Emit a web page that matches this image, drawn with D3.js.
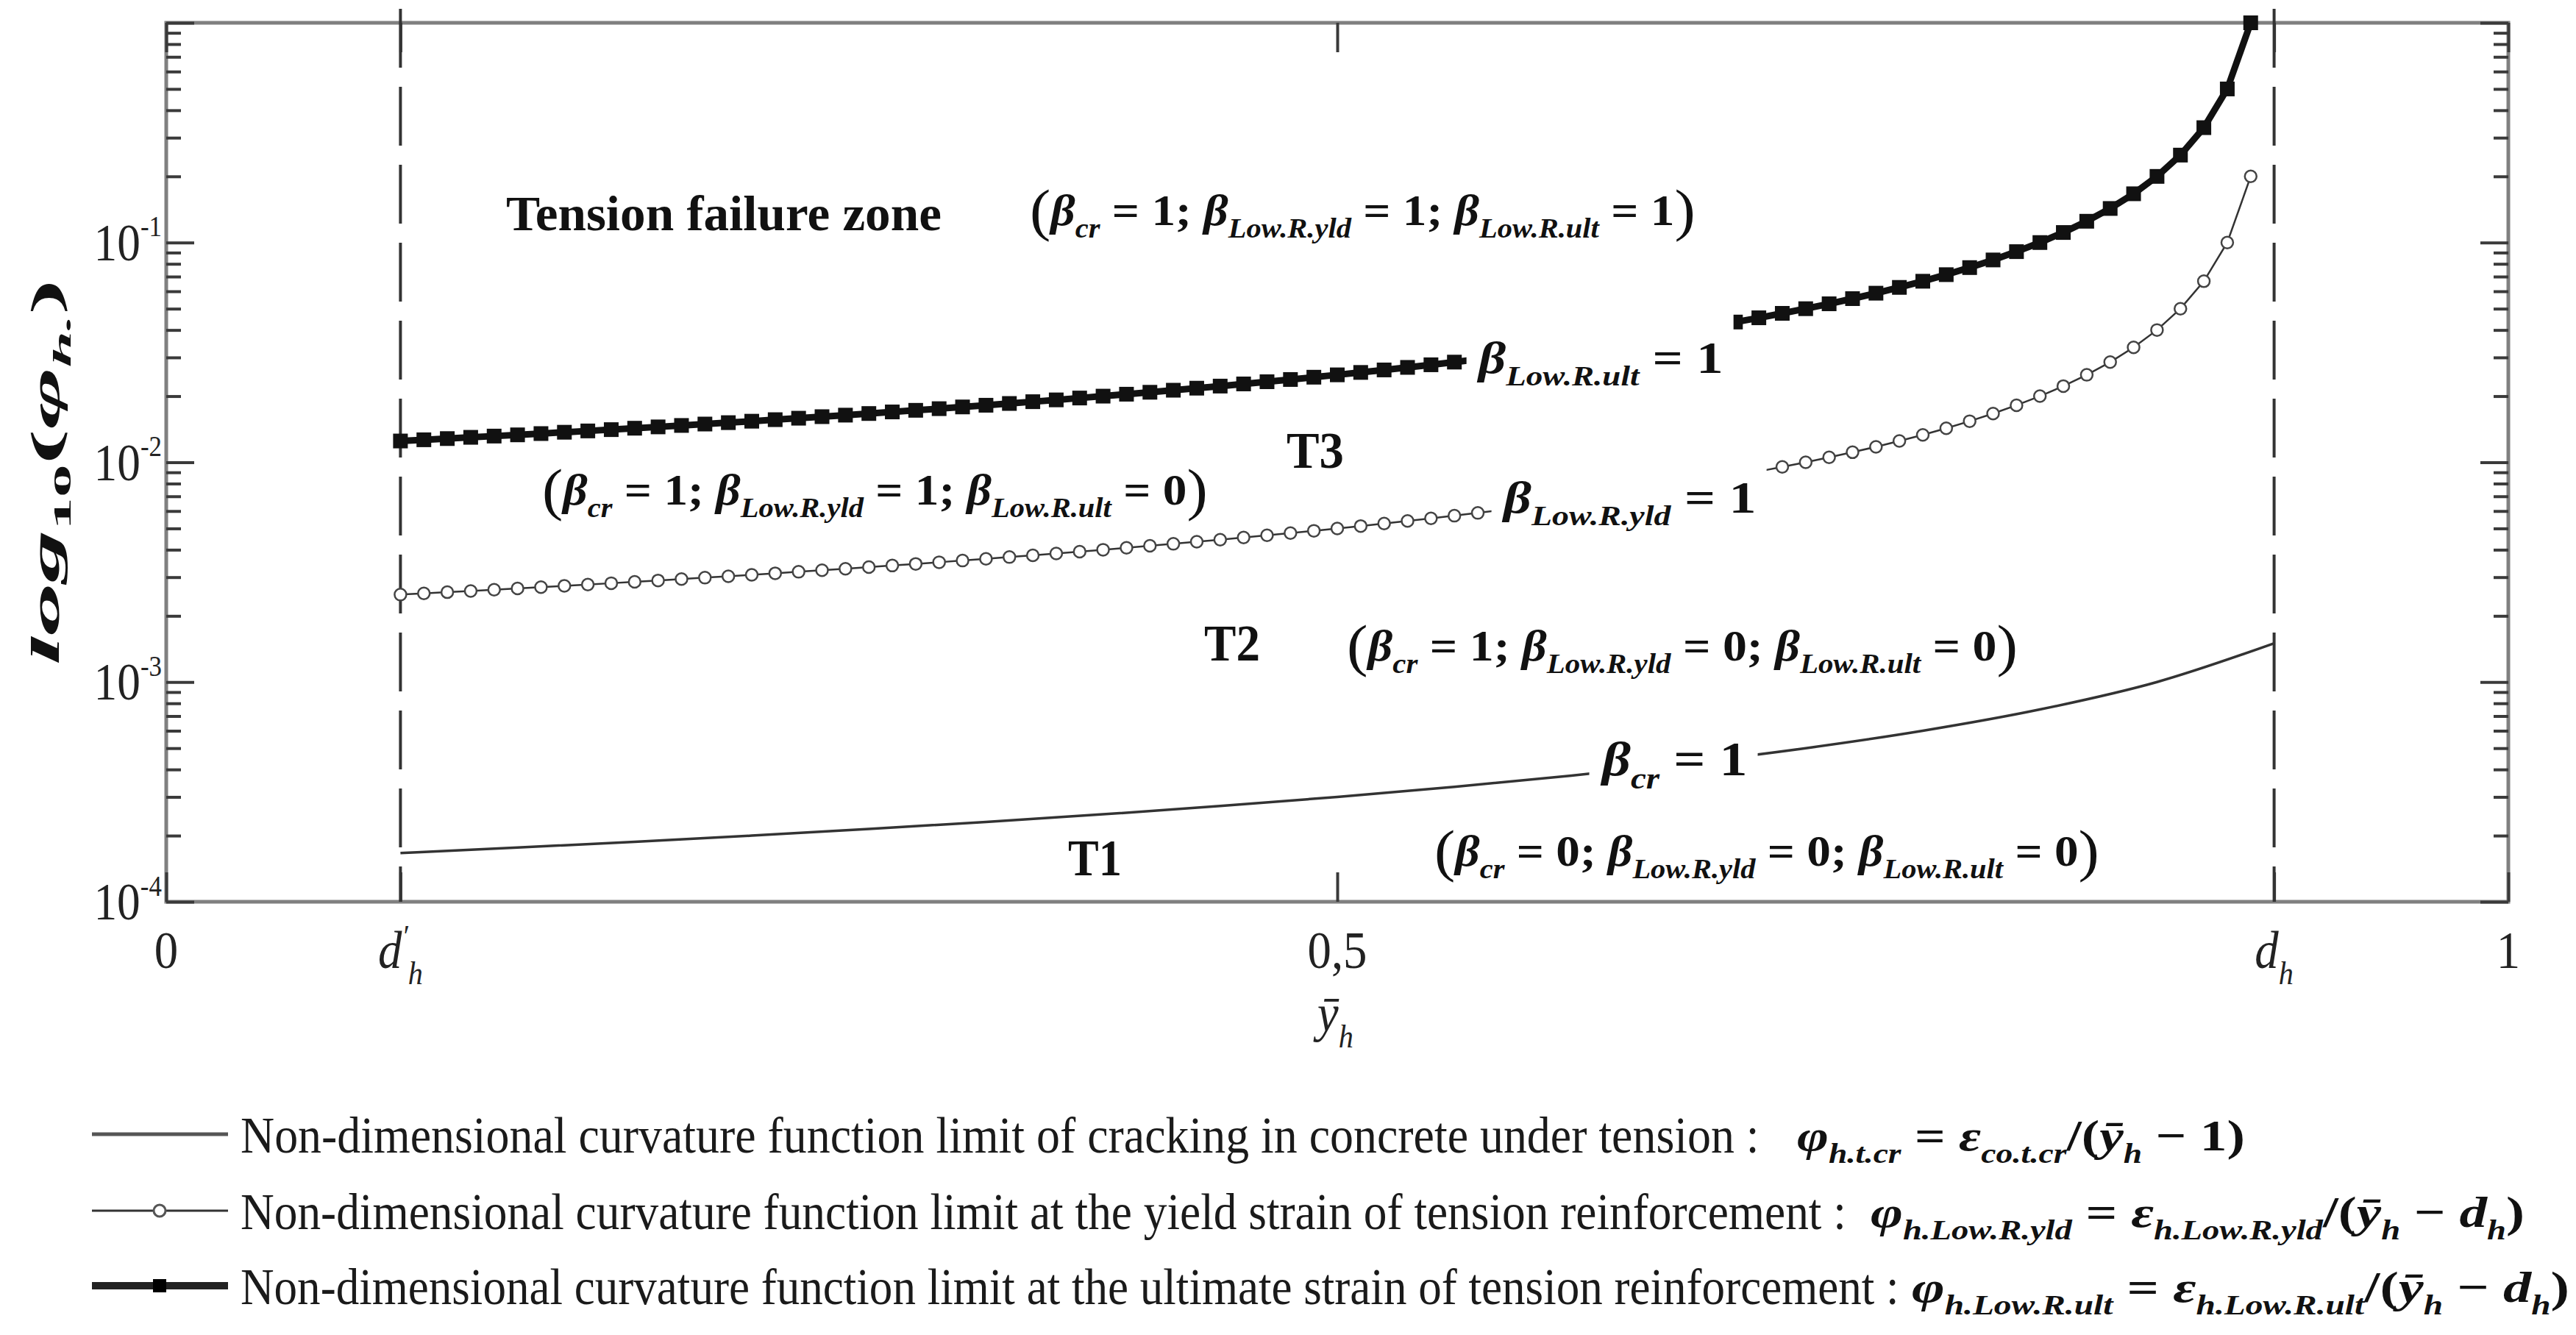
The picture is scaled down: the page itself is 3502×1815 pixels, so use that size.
<!DOCTYPE html>
<html>
<head>
<meta charset="utf-8">
<script src="https://cdn.jsdelivr.net/npm/d3@7"></script>
<style>
  html, body { margin: 0; padding: 0; background: #fff; }
  svg { display: block; }
  text { white-space: pre; }
</style>
</head>
<body>
<svg id="chart" width="3502" height="1815"></svg>
<script>
// Non-dimensional curvature limits vs. neutral axis depth (log scale)

// ---- data ----
const yBar = [
    0.10, 0.11, 0.12, 0.13, 0.14, 0.15, 0.16, 0.17, 0.18, 0.19,
    0.20, 0.21, 0.22, 0.23, 0.24, 0.25, 0.26, 0.27, 0.28, 0.29,
    0.30, 0.31, 0.32, 0.33, 0.34, 0.35, 0.36, 0.37, 0.38, 0.39,
    0.40, 0.41, 0.42, 0.43, 0.44, 0.45, 0.46, 0.47, 0.48, 0.49,
    0.50, 0.51, 0.52, 0.53, 0.54, 0.55, 0.56, 0.57, 0.58, 0.59,
    0.60, 0.61, 0.62, 0.63, 0.64, 0.65, 0.66, 0.67, 0.68, 0.69,
    0.70, 0.71, 0.72, 0.73, 0.74, 0.75, 0.76, 0.77, 0.78, 0.79,
    0.80, 0.81, 0.82, 0.83, 0.84, 0.85, 0.86, 0.87, 0.88, 0.89
];
// yield strain limit (open circles)
const phiYield = [
    0.0025, 0.002532, 0.002564, 0.002597, 0.002632, 0.002667, 0.002703, 0.00274, 0.002778, 0.002817,
    0.002857, 0.002899, 0.002941, 0.002985, 0.00303, 0.003077, 0.003125, 0.003175, 0.003226, 0.003279,
    0.003333, 0.00339, 0.003448, 0.003509, 0.003571, 0.003636, 0.003704, 0.003774, 0.003846, 0.003922,
    0.004, 0.004082, 0.004167, 0.004255, 0.004348, 0.004444, 0.004545, 0.004651, 0.004762, 0.004878,
    0.005, 0.005128, 0.005263, 0.005405, 0.005556, 0.005714, 0.005882, 0.006061, 0.00625, 0.006452,
    0.006667, 0.006897, 0.007143, 0.007407, 0.007692, 0.008, 0.008333, 0.008696, 0.009091, 0.009524,
    0.01, 0.01053, 0.01111, 0.01176, 0.0125, 0.01333, 0.01429, 0.01538, 0.01667, 0.01818,
    0.02, 0.02222, 0.025, 0.02857, 0.03333, 0.04, 0.05, 0.06667, 0.1, 0.2
];
// ultimate strain limit (filled squares)
const phiUlt = [
    0.0125, 0.01266, 0.01282, 0.01299, 0.01316, 0.01333, 0.01351, 0.0137, 0.01389, 0.01408,
    0.01429, 0.01449, 0.01471, 0.01493, 0.01515, 0.01538, 0.01563, 0.01587, 0.01613, 0.01639,
    0.01667, 0.01695, 0.01724, 0.01754, 0.01786, 0.01818, 0.01852, 0.01887, 0.01923, 0.01961,
    0.02, 0.02041, 0.02083, 0.02128, 0.02174, 0.02222, 0.02273, 0.02326, 0.02381, 0.02439,
    0.025, 0.02564, 0.02632, 0.02703, 0.02778, 0.02857, 0.02941, 0.0303, 0.03125, 0.03226,
    0.03333, 0.03448, 0.03571, 0.03704, 0.03846, 0.04, 0.04167, 0.04348, 0.04545, 0.04762,
    0.05, 0.05263, 0.05556, 0.05882, 0.0625, 0.06667, 0.07143, 0.07692, 0.08333, 0.09091,
    0.1, 0.1111, 0.125, 0.1429, 0.1667, 0.2, 0.25, 0.3333, 0.5, 1.0
];
// cracking limit (plain line)
const yBarCr = [0.10, 0.15, 0.20, 0.25, 0.30, 0.35, 0.40, 0.45, 0.50, 0.55, 0.60, 0.65, 0.70, 0.75, 0.80, 0.85, 0.90];
const phiCr = [1.667e-4, 1.765e-4, 1.875e-4, 2.0e-4, 2.143e-4, 2.308e-4, 2.5e-4, 2.727e-4, 3.0e-4,
    3.333e-4, 3.75e-4, 4.286e-4, 5.0e-4, 6.0e-4, 7.5e-4, 1.0e-3, 1.5e-3];

const dPrime = 0.1;
const dH = 0.9;
const xTicks = [0, dPrime, 0.5, dH, 1];
const xTickLabels = [
    [['0', 'r']],
    [['d', 'i'], ['′', 'isup'], ['h', 'isub']],
    [['0,5', 'r']],
    [['d', 'i'], ['h', 'isub']],
    [['1', 'r']]
];
const yMajor = [1e-4, 1e-3, 1e-2, 1e-1, 1];
const yTickExp = ['-4', '-3', '-2', '-1'];

const legendText = [
    'Non-dimensional curvature function limit of cracking in concrete under tension :',
    'Non-dimensional curvature function limit at the yield strain of tension reinforcement :',
    'Non-dimensional curvature function limit at the ultimate strain of tension reinforcement :'
];
const legendFormula = [
    [['φ', 'bi'], ['h.t.cr', 'sub'], [' = ', 'b'], ['ε', 'bi'], ['co.t.cr', 'sub'], ['/(', 'b'], ['ȳ', 'bi'], ['h', 'sub'], [' − 1)', 'b']],
    [['φ', 'bi'], ['h.Low.R.yld', 'sub'], [' = ', 'b'], ['ε', 'bi'], ['h.Low.R.yld', 'sub'], ['/(', 'b'], ['ȳ', 'bi'], ['h', 'sub'], [' − ', 'b'], ['d', 'bi'], ['h', 'sub'], [')', 'b']],
    [['φ', 'bi'], ['h.Low.R.ult', 'sub'], [' = ', 'b'], ['ε', 'bi'], ['h.Low.R.ult', 'sub'], ['/(', 'b'], ['ȳ', 'bi'], ['h', 'sub'], [' − ', 'b'], ['d', 'bi'], ['h', 'sub'], [')', 'b']]
];

function betaSet(cr, yld, ult) {
    return [['(', 'par'], ['β', 'bi'], ['cr', 'sub'], [' = ' + cr + '; ', 'b'],
        ['β', 'bi'], ['Low.R.yld', 'sub'], [' = ' + yld + '; ', 'b'],
        ['β', 'bi'], ['Low.R.ult', 'sub'], [' = ' + ult, 'b'], [')', 'par']];
}

// ---- layout ----
const FONT = "'Liberation Serif', 'Times New Roman', serif";
const svg = d3.select('#chart');
const plot = { left: 226, right: 3410, top: 31, bottom: 1226 };

const x = d3.scaleLinear().domain([0, 1]).range([plot.left, plot.right]);
const y = d3.scaleLog().domain([1e-4, 1]).range([plot.bottom, plot.top]);

const STYLES = {
    r:    { style: 'normal', weight: 'normal', scale: 1, shift: 0 },
    b:    { style: 'normal', weight: 'bold', scale: 1, shift: 0 },
    i:    { style: 'italic', weight: 'normal', scale: 1, shift: 0 },
    bi:   { style: 'italic', weight: 'bold', scale: 1, shift: 0 },
    sub:  { style: 'italic', weight: 'bold', scale: 0.62, shift: 0.28 },
    bsub: { style: 'normal', weight: 'bold', scale: 0.62, shift: 0.28 },
    isub: { style: 'italic', weight: 'normal', scale: 0.62, shift: 0.3 },
    sup:  { style: 'normal', weight: 'normal', scale: 0.55, shift: -0.45 },
    isup: { style: 'italic', weight: 'normal', scale: 0.6, shift: -0.4 },
    par:  { style: 'normal', weight: 'normal', scale: 1.3, shift: 0.1 }
};

// Text made of styled runs, squeezed horizontally to a target width
function richText(parent, parts, o) {
    const t = parent.append('text')
        .attr('font-family', FONT)
        .attr('font-size', o.size)
        .attr('fill', o.color || '#111');
    let cur = 0;
    parts.forEach(([s, k]) => {
        const st = STYLES[k];
        const shift = st.shift * o.size;
        t.append('tspan')
            .attr('dy', shift - cur)
            .attr('font-size', o.size * st.scale)
            .attr('font-style', st.style)
            .attr('font-weight', st.weight)
            .text(s);
        cur = shift;
    });
    const bb = t.node().getBBox();
    const sx = o.width ? o.width / bb.width : (o.sx || 1);
    let x0 = o.x;
    if (o.anchor === 'middle') x0 -= bb.width * sx / 2;
    if (o.anchor === 'end') x0 -= bb.width * sx;
    t.attr('transform', `translate(${x0},${o.y}) scale(${sx},1)`);
    if (o.bg) {
        // white box behind the label, the curve passes under it
        const pad = 14;
        const padTop = o.padTop || 6;
        parent.insert('rect', () => t.node())
            .attr('x', x0 + bb.x * sx - pad)
            .attr('y', o.y + bb.y - padTop)
            .attr('width', bb.width * sx + 2 * pad)
            .attr('height', bb.height + padTop + 6)
            .attr('fill', '#fff');
    }
    return t;
}

// ---- frame and ticks ----
svg.append('rect')
    .attr('x', plot.left)
    .attr('y', plot.top)
    .attr('width', plot.right - plot.left)
    .attr('height', plot.bottom - plot.top)
    .attr('fill', 'none')
    .attr('stroke', '#808080')
    .attr('stroke-width', 5);

const yMinor = y.ticks().filter(v => !yMajor.some(m => Math.abs(m - v) / m < 1e-9));

function tickAxis(axis, tx, ty) {
    const g = svg.append('g').attr('transform', `translate(${tx},${ty})`).call(axis);
    g.select('.domain').remove();
    g.selectAll('text').remove();
    g.selectAll('line').attr('stroke', '#3a3a3a').attr('stroke-width', 4);
    return g;
}

tickAxis(d3.axisRight(y).tickValues(yMinor).tickSize(20), plot.left, 0);
tickAxis(d3.axisRight(y).tickValues(yMajor).tickSize(38), plot.left, 0);
tickAxis(d3.axisLeft(y).tickValues(yMinor).tickSize(20), plot.right, 0);
tickAxis(d3.axisLeft(y).tickValues(yMajor).tickSize(38), plot.right, 0);
tickAxis(d3.axisTop(x).tickValues(xTicks).tickSize(40), 0, plot.bottom);
tickAxis(d3.axisBottom(x).tickValues(xTicks).tickSize(40), 0, plot.top);

// tick labels
yMajor.slice(0, 4).forEach((v, i) => {
    richText(svg, [['10', 'r'], [yTickExp[i], 'sup']], {
        x: plot.left - 6, y: y(v) + 24, size: 72, sx: 0.88, anchor: 'end', color: '#222'
    });
});
xTicks.forEach((v, i) => {
    richText(svg, xTickLabels[i], {
        x: x(v), y: 1316, size: 72, sx: 0.9, anchor: 'middle', color: '#222'
    });
});

// axis titles
richText(svg, [['ȳ', 'i'], ['h', 'isub']], { x: x(0.5), y: 1402, size: 72, sx: 0.9, anchor: 'middle', color: '#222' });
const yTitle = svg.append('g').attr('transform', 'translate(62,642) rotate(-90)');
richText(yTitle, [['log', 'bi'], ['10', 'bsub'], ['(', 'b'], ['φ', 'bi'], ['h.', 'sub'], [')', 'b']], {
    x: 0, y: 18, size: 56, width: 525, anchor: 'middle'
});

// ---- d'h and dh limits ----
[dPrime, dH].forEach(v => {
    svg.append('line')
        .attr('x1', x(v)).attr('x2', x(v))
        .attr('y1', 12).attr('y2', plot.bottom)
        .attr('stroke', '#333')
        .attr('stroke-width', 4)
        .attr('stroke-dasharray', '80 26');
});

// ---- curves ----
const crPts = yBarCr.map((v, i) => [v, phiCr[i]]);
const yldPts = yBar.map((v, i) => [v, phiYield[i]]);
const ultPts = yBar.map((v, i) => [v, phiUlt[i]]);

const line = d3.line().x(d => x(d[0])).y(d => y(d[1]));

svg.append('path')
    .attr('d', d3.line().x(d => x(d[0])).y(d => y(d[1])).curve(d3.curveMonotoneX)(crPts))
    .attr('fill', 'none')
    .attr('stroke', '#333')
    .attr('stroke-width', 3.5);

svg.append('path')
    .attr('d', line(yldPts))
    .attr('fill', 'none')
    .attr('stroke', '#333')
    .attr('stroke-width', 2.5);
svg.append('g').selectAll('circle')
    .data(yldPts)
    .join('circle')
    .attr('cx', d => x(d[0]))
    .attr('cy', d => y(d[1]))
    .attr('r', 8)
    .attr('fill', '#fff')
    .attr('stroke', '#444')
    .attr('stroke-width', 2.5);

svg.append('path')
    .attr('d', line(ultPts))
    .attr('fill', 'none')
    .attr('stroke', '#111')
    .attr('stroke-width', 9);
svg.append('g').selectAll('rect')
    .data(ultPts)
    .join('rect')
    .attr('x', d => x(d[0]) - 10)
    .attr('y', d => y(d[1]) - 10)
    .attr('width', 20)
    .attr('height', 20)
    .attr('fill', '#111');

// ---- zone annotations ----
const notes = svg.append('g');
richText(notes, [['Tension failure zone', 'b']], { x: 688, y: 313, size: 68, width: 592 });
richText(notes, betaSet(1, 1, 1), { x: 1400, y: 306, size: 60, width: 905 });
richText(notes, [['β', 'bi'], ['Low.R.ult', 'sub'], [' = 1', 'b']], { x: 2010, y: 507, size: 62, width: 335, bg: true, padTop: 44 });
richText(notes, [['T3', 'b']], { x: 1749, y: 636, size: 70, width: 78 });
richText(notes, betaSet(1, 1, 0), { x: 737, y: 686, size: 60, width: 905 });
richText(notes, [['β', 'bi'], ['Low.R.yld', 'sub'], [' = 1', 'b']], { x: 2044, y: 697, size: 62, width: 346, bg: true, padTop: 20 });
richText(notes, [['T2', 'b']], { x: 1637, y: 898, size: 70, width: 76 });
richText(notes, betaSet(1, 0, 0), { x: 1831, y: 898, size: 60, width: 912 });
richText(notes, [['β', 'bi'], ['cr', 'sub'], [' = 1', 'b']], { x: 2178, y: 1054, size: 66, width: 201, bg: true });
richText(notes, [['T1', 'b']], { x: 1452, y: 1190, size: 70, width: 73 });
richText(notes, betaSet(0, 0, 0), { x: 1950, y: 1177, size: 60, width: 904 });

// ---- legend ----
const legend = svg.append('g');
const legendRows = [1542, 1646, 1748];
const legendTextW = [2065, 2183, 2255];
const legendFormulaX = [2443, 2543, 2599];
const legendFormulaW = [609, 889, 894];

legend.append('line').attr('x1', 125).attr('x2', 310).attr('y1', legendRows[0]).attr('y2', legendRows[0])
    .attr('stroke', '#555').attr('stroke-width', 5);
legend.append('line').attr('x1', 125).attr('x2', 310).attr('y1', legendRows[1]).attr('y2', legendRows[1])
    .attr('stroke', '#333').attr('stroke-width', 3);
legend.append('circle').attr('cx', 217).attr('cy', legendRows[1]).attr('r', 8)
    .attr('fill', '#fff').attr('stroke', '#555').attr('stroke-width', 3);
legend.append('line').attr('x1', 125).attr('x2', 310).attr('y1', legendRows[2]).attr('y2', legendRows[2])
    .attr('stroke', '#222').attr('stroke-width', 10);
legend.append('rect').attr('x', 208).attr('y', legendRows[2] - 9).attr('width', 18).attr('height', 18)
    .attr('fill', '#000');

legendText.forEach((s, i) => {
    richText(legend, [[s, 'r']], { x: 327, y: legendRows[i] + 25, size: 70, width: legendTextW[i], color: '#1a1a1a' });
    richText(legend, legendFormula[i], { x: legendFormulaX[i], y: legendRows[i] + 22, size: 60, width: legendFormulaW[i] });
});
</script>
</body>
</html>
